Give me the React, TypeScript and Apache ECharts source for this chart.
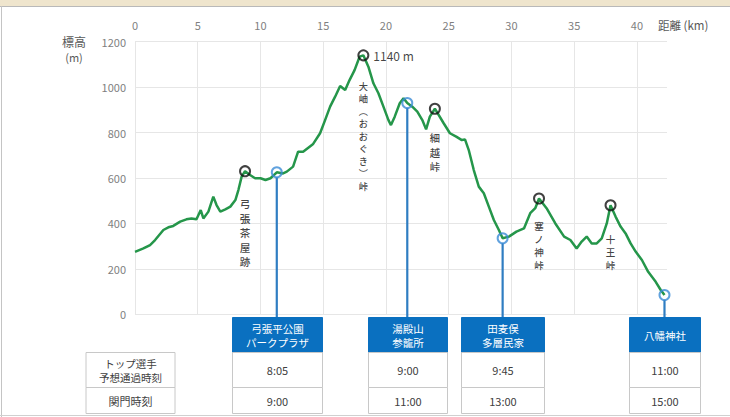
import React, { useEffect, useRef } from "react";
import * as echarts from "echarts";

// Elevation profile (distance in km, elevation in m)
const distanceKm = [
  0, 0.67, 1.2, 1.6, 2.26, 2.66, 3.05, 3.6, 4.1, 4.5, 4.9, 5.24, 5.45, 5.85, 6.24, 6.5, 6.8, 7.2, 7.6, 8.0,
  8.24, 8.5, 8.77, 9.17, 9.57, 10.0, 10.4, 10.8, 11.3, 11.8, 12.1, 12.6, 13.0, 13.4, 14.2, 14.75, 15.15, 15.55,
  15.95, 16.35, 16.75, 17.1, 17.5, 17.9, 18.2, 18.6, 19.0, 19.4, 19.8, 20.2, 20.4, 20.7, 21.1, 21.4, 21.7, 22.1,
  22.5, 22.9, 23.2, 23.5, 23.9, 24.6, 25.1, 25.6, 26.05, 26.3, 26.6, 27.0, 27.4, 27.8, 28.2, 28.6, 29.0, 29.3,
  29.8, 30.4, 31.0, 31.5, 31.9, 32.2, 32.8, 33.5, 34.2, 34.7, 35.2, 35.6, 36.0, 36.4, 36.8, 37.2, 37.6, 37.9,
  38.3, 38.7, 39.1, 39.5, 39.9, 40.4, 40.9, 41.5, 41.9, 42.2,
];
const elevationM = [
  275, 290, 305, 327, 371, 383, 389, 408, 418, 422, 418, 459, 422, 452, 518, 481, 452, 462, 474, 503,
  547, 606, 630, 613, 599, 599, 591, 599, 625, 620, 628, 650, 716, 716, 750, 797, 855, 914,
  958, 1005, 987, 1031, 1075, 1134, 1140, 1090, 1017, 973, 914, 855, 833, 870, 929, 951, 930, 914,
  892, 855, 814, 870, 905, 841, 797, 782, 767, 770, 723, 635, 562, 533, 474, 415, 371, 335,
  342, 364, 378, 445, 467, 510, 467, 400, 342, 327, 290, 320, 342, 312, 312, 334, 400, 480,
  430, 386, 356, 312, 276, 239, 187, 143, 107, 85,
];

// Passes (black circles)
const peakKm = [8.77, 18.2, 23.9, 32.2, 37.9];
const peakAlt = [630, 1140, 905, 510, 480];
const peakNames = ["弓張茶屋跡", "大岫︵おおぐき︶峠", "細越峠", "塞ノ神峠", "十王峠"];

// Checkpoints (blue circles)
const stationKm = [11.3, 21.7, 29.3, 42.2];
const stationAlt = [625, 930, 335, 85];
const stationNames = ["弓張平公園\nパークプラザ", "湯殿山\n参籠所", "田麦俣\n多層民家", "八幡神社"];
const topRunnerTimes = ["8:05", "9:00", "9:45", "11:00"];
const cutoffTimes = ["9:00", "11:00", "13:00", "15:00"];

const rowLabels = ["トップ選手\n予想通過時刻", "関門時刻"];
const yAxisName = "標高\n(m)";
const xAxisName = "距離 (km)";

// layout (not data)
const peakLabelLayout = [
  { distance: 19, lineHeight: 14.6, fontSize: 10.6 },
  { distance: 18, lineHeight: 12.5, fontSize: 9.2 },
  { distance: 16, lineHeight: 14.2, fontSize: 10.3 },
  { distance: 15, lineHeight: 13, fontSize: 9.5 },
  { distance: 21, lineHeight: 13, fontSize: 9.5 },
];
const boxWidths = [90, 79, 83, 71];

const FONT = '"Noto Sans CJK JP", "Noto Sans", sans-serif';
const BLUE_BOX = "#0a70c0";
const BLUE_LINE = "#2f7dc2";
const BLUE_CIRCLE = "#3a8bd6";
const GREEN = "#25964a";

function txt(text: string, x: number, y: number, size: number, fill: string, lineHeight?: number, align = "center") {
  return {
    type: "text",
    z: 10,
    style: {
      text,
      x,
      y,
      fill,
      font: `${size}px ${FONT}`,
      fontSize: size,
      fontFamily: FONT,
      lineHeight: lineHeight || size + 3,
      align,
      verticalAlign: "middle",
      textAlign: align,
      textVerticalAlign: "middle",
    },
  };
}

function cell(x: number, y: number, w: number, h: number, fill: string, stroke: string) {
  return {
    type: "rect",
    z: 5,
    shape: { x, y, width: w, height: h },
    style: { fill, stroke, lineWidth: 1 },
  };
}

export default function App() {
  const ref = useRef<HTMLDivElement>(null);

  useEffect(() => {
    if (!ref.current) return;
    const chart = echarts.init(ref.current, null, { renderer: "svg" });

    const profile = distanceKm.map((d, i) => [d, elevationM[i]]);
    const peaks = peakKm.map((d, i) => ({
      value: [d, peakAlt[i]],
      name: peakNames[i],
      label: {
        show: true,
        position: "bottom",
        distance: peakLabelLayout[i].distance,
        lineHeight: peakLabelLayout[i].lineHeight,
        fontSize: peakLabelLayout[i].fontSize,
        formatter: Array.from(peakNames[i]).join("\n"),
      },
    }));
    const summitIdx = peakAlt.indexOf(Math.max(...peakAlt));
    const stations = stationKm.map((d, i) => [d, stationAlt[i]]);

    chart.setOption({
      animation: false,
      textStyle: { fontFamily: FONT },
      grid: { left: 135, right: 63, top: 41.7, bottom: 102.7, containLabel: false },
      xAxis: {
        type: "value",
        position: "top",
        min: 0,
        max: 42.4,
        interval: 5,
        axisLine: { show: false },
        axisTick: { show: false },
        axisLabel: {
          color: "#7f7f7f",
          fontSize: 11,
          margin: 11,
          showMaxLabel: false,
          formatter: (v: number) => (v % 5 === 0 ? String(v) : ""),
        },
        splitLine: { show: true, showMaxLine: false, lineStyle: { color: "#e6e6e6", width: 1 } },
      },
      yAxis: {
        type: "value",
        min: 0,
        max: 1200,
        interval: 200,
        axisLine: { show: false },
        axisTick: { show: false },
        axisLabel: { color: "#7f7f7f", fontSize: 11, margin: 9, formatter: (v: number) => String(v) },
        splitLine: { show: true, lineStyle: { color: "#e6e6e6", width: 1 } },
      },
      series: [
        {
          type: "line",
          data: profile,
          symbol: "none",
          lineStyle: { color: GREEN, width: 2.5 },
          z: 2,
        },
        {
          type: "scatter",
          data: peaks,
          symbol: "circle",
          symbolSize: 10,
          itemStyle: { color: "rgba(255,255,255,0)", borderColor: "#111", borderWidth: 2 },
          label: { color: "#111", fontFamily: FONT, fontWeight: 500 },
          z: 4,
        },
        {
          type: "scatter",
          data: [[peakKm[summitIdx], peakAlt[summitIdx]]],
          symbol: "circle",
          symbolSize: 10,
          itemStyle: { color: "rgba(255,255,255,0)", borderWidth: 0 },
          label: {
            show: true,
            position: "right",
            distance: 5,
            color: "#111",
            fontSize: 12,
            fontFamily: FONT,
            formatter: (p: any) => `${p.value[1]} m`,
          },
          z: 3,
        },
        {
          type: "scatter",
          data: stations,
          symbol: "circle",
          symbolSize: 10,
          itemStyle: { color: "rgba(255,255,255,0)", borderColor: BLUE_CIRCLE, borderWidth: 2 },
          z: 4,
        },
      ],
    });

    // Table and connectors, positioned through the chart's own scale
    const headerTop = 317.5;
    const headerH = 35;
    const row1H = 35;
    const row2H = 26;
    const g: any[] = [];

    // frame / map strip
    g.push({ type: "rect", z: 0, shape: { x: 0, y: 0, width: 730, height: 6 }, style: { fill: "#efe5cd" } });
    g.push({ type: "line", z: 1, shape: { x1: 0, y1: 6.5, x2: 730, y2: 6.5 }, style: { stroke: "#b9b9b9", lineWidth: 1 } });
    g.push({ type: "line", z: 1, shape: { x1: 1.5, y1: 6, x2: 1.5, y2: 417 }, style: { stroke: "#c4c4c4", lineWidth: 1 } });
    g.push({ type: "line", z: 1, shape: { x1: 0, y1: 415.5, x2: 730, y2: 415.5 }, style: { stroke: "#d0d0d0", lineWidth: 1 } });

    // axis names
    const yn = yAxisName.split("\n");
    g.push(txt(yn[0], 74, 41.5, 12, "#595959"));
    g.push(txt(yn[1], 74, 56.5, 11, "#595959"));
    g.push(txt(xAxisName, 658, 25, 11.5, "#595959", undefined, "left"));

    // row labels
    const lx = 86;
    const lw = 89;
    const rowTop = headerTop + headerH;
    g.push(cell(lx, rowTop, lw, row1H, "#fff", "#c8c8c8"));
    g.push(cell(lx, rowTop + row1H, lw, row2H, "#fff", "#c8c8c8"));
    g.push(txt(rowLabels[0], lx + lw / 2, rowTop + row1H / 2, 10.5, "#404040", 14));
    g.push(txt(rowLabels[1], lx + lw / 2, rowTop + row1H + row2H / 2, 11, "#404040"));

    stationKm.forEach((km, i) => {
      const [px, py] = chart.convertToPixel({ gridIndex: 0 }, [km, stationAlt[i]]) as number[];
      const w = boxWidths[i];
      const x0 = Math.round(px - w / 2) + 0.5;
      g.push({
        type: "line",
        z: 1,
        shape: { x1: px, y1: py + 5, x2: px, y2: headerTop },
        style: { stroke: BLUE_LINE, lineWidth: 2.2 },
      });
      g.push(cell(x0, headerTop, w, headerH, BLUE_BOX, BLUE_BOX));
      g.push(txt(stationNames[i], x0 + w / 2, headerTop + headerH / 2, 10.5, "#ffffff", 14));
      g.push(cell(x0, rowTop, w, row1H, "#fff", "#c8c8c8"));
      g.push(cell(x0, rowTop + row1H, w, row2H, "#fff", "#c8c8c8"));
      g.push(txt(topRunnerTimes[i], x0 + w / 2, rowTop + row1H / 2, 11, "#404040"));
      g.push(txt(cutoffTimes[i], x0 + w / 2, rowTop + row1H + row2H / 2, 11, "#404040"));
    });

    chart.setOption({ graphic: g });

    return () => chart.dispose();
  }, []);

  return (
    <div
      ref={ref}
      style={{ position: "absolute", left: 0, top: 0, width: 730, height: 417, background: "#fff" }}
    />
  );
}
